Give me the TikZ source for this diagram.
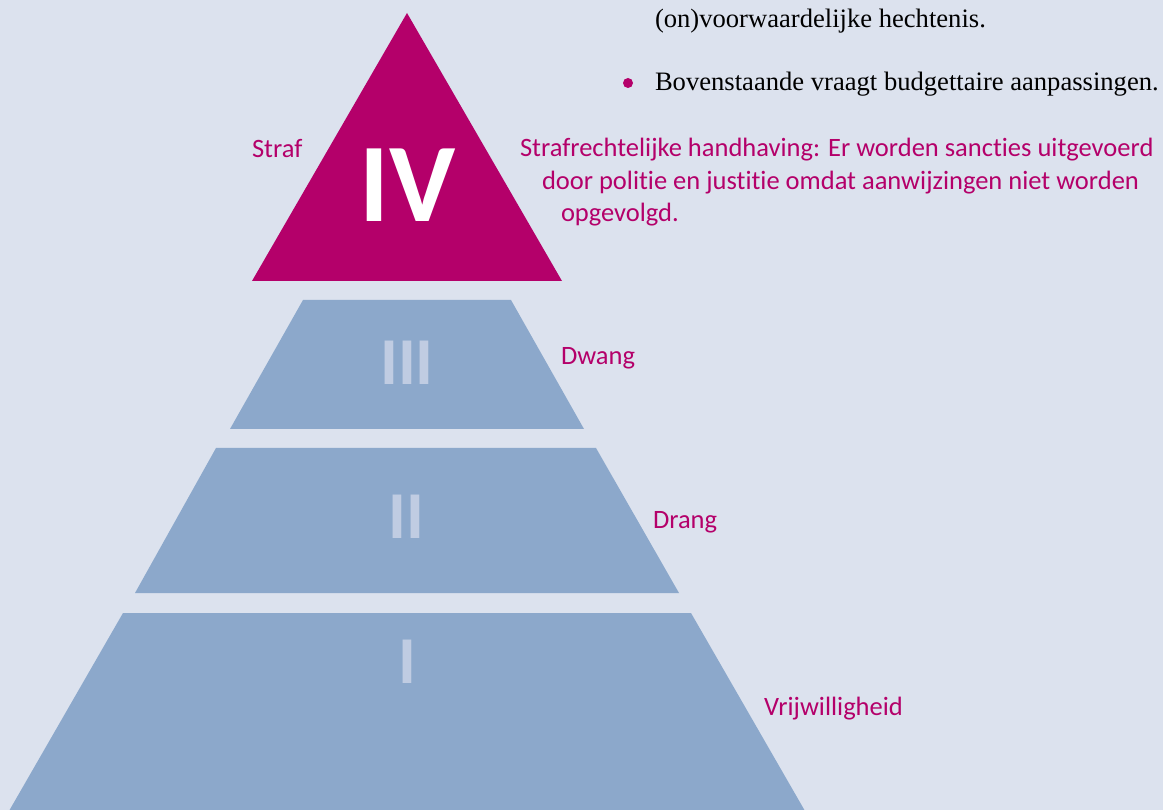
\documentclass[tikz,border=0pt]{standalone}
\usepackage{fontspec}
\usepackage{tikz}
\setmainfont{Liberation Serif}
\newfontfamily\lblfont[Ligatures=NoCommon]{Carlito}
\definecolor{bgblue}{HTML}{DCE2EE}
\definecolor{lvlblue}{HTML}{8CA8CB}
\definecolor{numblue}{HTML}{C0CCE2}
\definecolor{rvmagenta}{HTML}{B4006A}
\tikzset{
    every node/.style={inner sep=0mm, outer sep=0mm}
}
\tikzset{lvl/.style={fill=lvlblue}}
\tikzset{num/.style={anchor=base, text=numblue, font=\lblfont\bfseries\fontsize{67}{67}\selectfont}}
\tikzset{lbl/.style={anchor=base west, text=rvmagenta, font=\lblfont\fontsize{26.5}{26.5}\selectfont}}
\tikzset{body/.style={anchor=base west, font=\fontsize{26.6}{26.6}\selectfont}}

\begin{document}
\begin{tikzpicture}[x=1pt, y=-1pt]
        \fill[bgblue] (0,0) rectangle (1163,810);
        \useasboundingbox (0,0) rectangle (1163,810);
        \fill[rvmagenta] (407,13) -- (562,281) -- (252,281) -- cycle;
        \fill[lvl] (303,300) -- (511,300) -- (584,429) -- (230,429) -- cycle;
        \fill[lvl] (216,448) -- (596,448) -- (679,593) -- (135,593) -- cycle;
        \fill[lvl] (123,613) -- (691,613) -- (805,811) -- (9,811) -- cycle;
        \node (n4) [num, text=white, font=\lblfont\bfseries\fontsize{112}{112}\selectfont] at (408,222) {IV};
        \node (n3) [num] at (407,385) {III};
        \node (n2) [num] at (406,538) {II};
        \node (n1) [num] at (407,683) {I};
        \node (straf) [lbl] at (252,158) {Straf};
        \node (dwang) [lbl] at (561,365) {Dwang};
        \node (drang) [lbl] at (653,528) {Drang};
        \node (vrij) [lbl] at (764,715) {Vrijwilligheid};
        \node (def1) [lbl] at (520,157) {Strafrechtelijke handhaving: Er worden sancties uitgevoerd};
        \node (def2) [lbl] at (542,189.5) {door politie en justitie omdat aanwijzingen niet worden};
        \node (def3) [lbl] at (561,222) {opgevolgd.};
        \node (txt1) [body] at (655,28) {(on)voorwaardelijke hechtenis.};
        \node (bul) [circle, fill=rvmagenta, minimum size=10pt] at (628,83) {};
        \node (txt2) [body] at (655,91) {Bovenstaande vraagt budgettaire aanpassingen.};
\end{tikzpicture}
\end{document}
